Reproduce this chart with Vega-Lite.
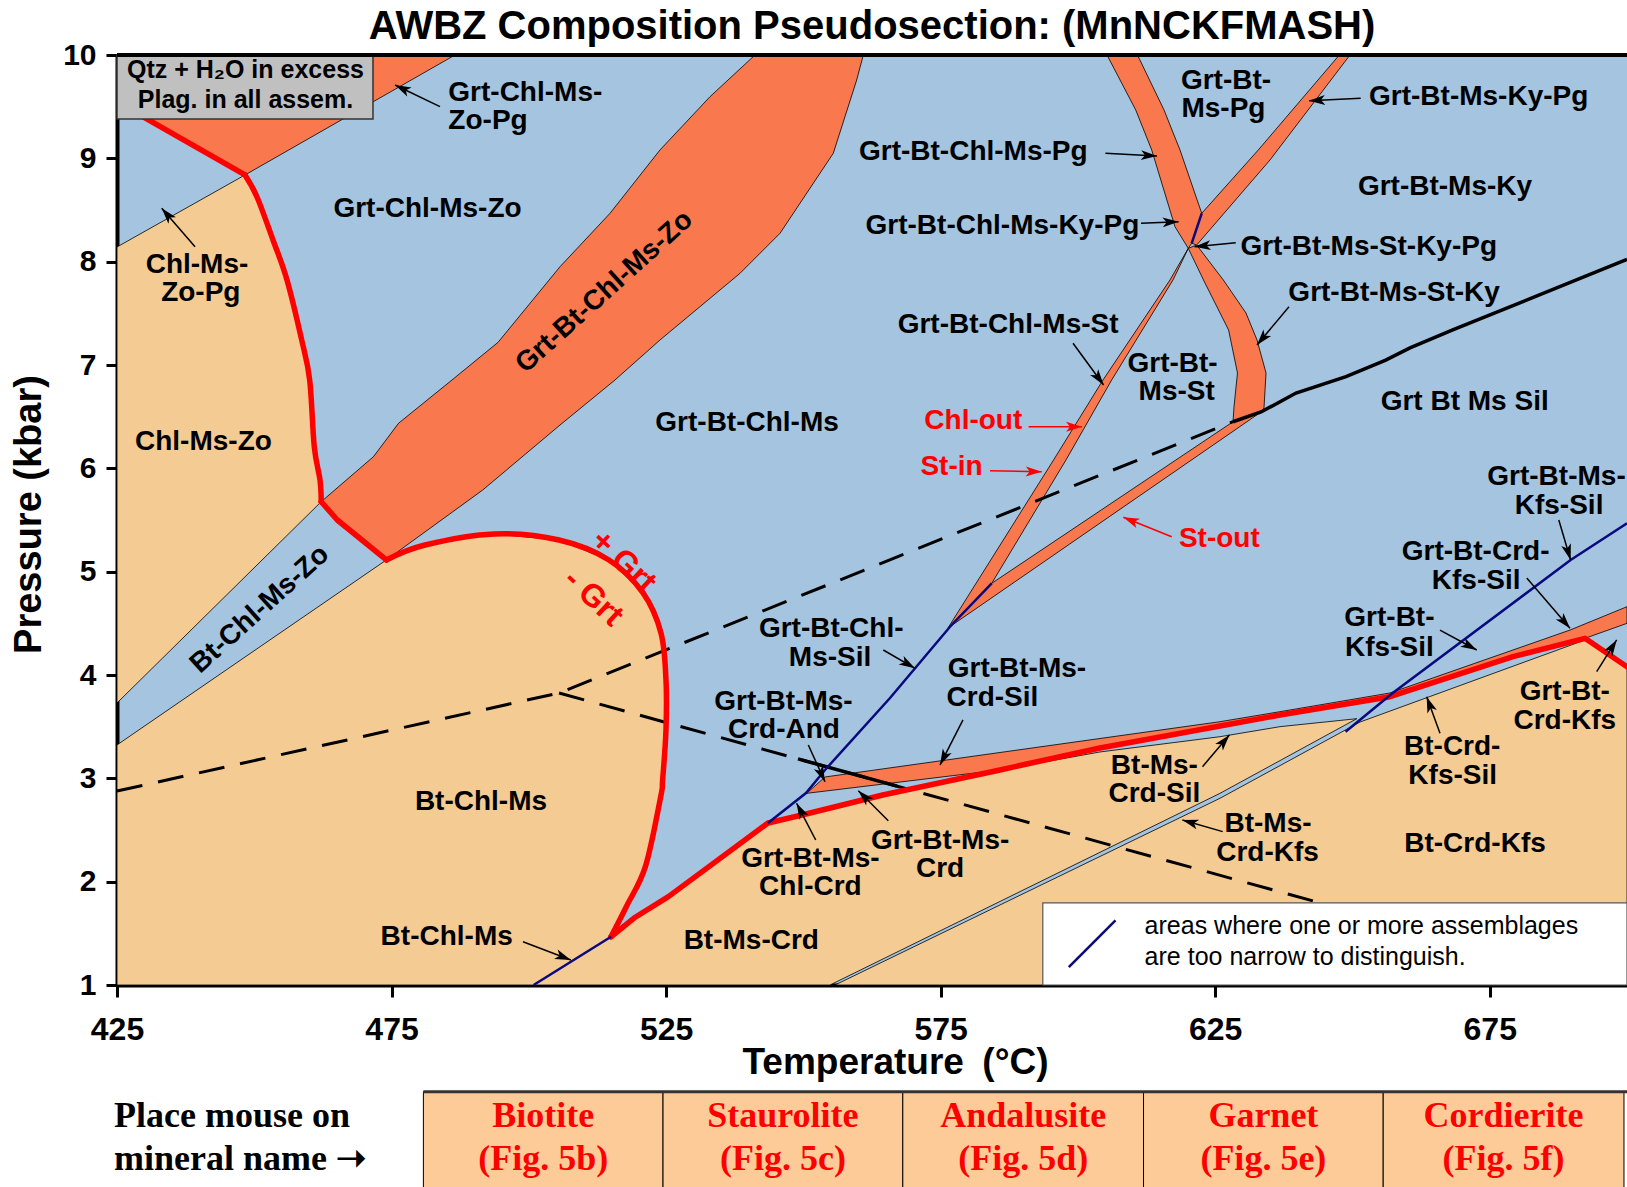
{
"$schema": "https://vega.github.io/schema/vega-lite/v6.json",
"width": 1510, "height": 930,
"autosize": {"type": "none"},
"padding": {"left": 117, "top": 55, "right": 0, "bottom": 202},
"background": "white",
"title": {"text": "AWBZ Composition Pseudosection: (MnNCKFMASH)", "font": "Liberation Sans", "fontWeight": "bold", "fontSize": 40, "color": "black", "anchor": "middle", "frame": "group", "baseline": "alphabetic", "offset": 2, "dy": 41},
"datasets": {
"regions": [
{"id":"chlmszo","kind":"peach","i":0,"T":425,"P":8.142},
{"id":"chlmszo","kind":"peach","i":1,"T":448.31,"P":8.839},
{"id":"chlmszo","kind":"peach","i":2,"T":450.50,"P":8.626},
{"id":"chlmszo","kind":"peach","i":3,"T":453.41,"P":8.210},
{"id":"chlmszo","kind":"peach","i":4,"T":455.96,"P":7.823},
{"id":"chlmszo","kind":"peach","i":5,"T":458.64,"P":7.242},
{"id":"chlmszo","kind":"peach","i":6,"T":460.09,"P":6.855},
{"id":"chlmszo","kind":"peach","i":7,"T":460.93,"P":6.209},
{"id":"chlmszo","kind":"peach","i":8,"T":461.97,"P":5.887},
{"id":"chlmszo","kind":"peach","i":9,"T":462.19,"P":5.677},
{"id":"chlmszo","kind":"peach","i":10,"T":425,"P":3.729},
{"id":"lower","kind":"peach","i":0,"T":425,"P":3.323},
{"id":"lower","kind":"peach","i":1,"T":474.05,"P":5.113},
{"id":"lower","kind":"peach","i":2,"T":481.09,"P":5.258},
{"id":"lower","kind":"peach","i":3,"T":493.66,"P":5.365},
{"id":"lower","kind":"peach","i":4,"T":505.50,"P":5.306},
{"id":"lower","kind":"peach","i":5,"T":514.60,"P":5.113},
{"id":"lower","kind":"peach","i":6,"T":520.80,"P":4.794},
{"id":"lower","kind":"peach","i":7,"T":524.07,"P":4.406},
{"id":"lower","kind":"peach","i":8,"T":524.98,"P":3.952},
{"id":"lower","kind":"peach","i":9,"T":524.98,"P":3.468},
{"id":"lower","kind":"peach","i":10,"T":524.37,"P":2.984},
{"id":"lower","kind":"peach","i":11,"T":524.02,"P":2.822},
{"id":"lower","kind":"peach","i":12,"T":521.23,"P":2.145},
{"id":"lower","kind":"peach","i":13,"T":517.75,"P":1.758},
{"id":"lower","kind":"peach","i":14,"T":514.97,"P":1.467},
{"id":"lower","kind":"peach","i":15,"T":519.16,"P":1.648},
{"id":"lower","kind":"peach","i":16,"T":525.42,"P":1.855},
{"id":"lower","kind":"peach","i":17,"T":543.56,"P":2.568},
{"id":"lower","kind":"peach","i":18,"T":549.75,"P":2.645},
{"id":"lower","kind":"peach","i":19,"T":564.45,"P":2.839},
{"id":"lower","kind":"peach","i":20,"T":585.81,"P":3.081},
{"id":"lower","kind":"peach","i":21,"T":604.02,"P":3.255},
{"id":"lower","kind":"peach","i":22,"T":625.88,"P":3.403},
{"id":"lower","kind":"peach","i":23,"T":636.81,"P":3.500},
{"id":"lower","kind":"peach","i":24,"T":650.78,"P":3.577},
{"id":"lower","kind":"peach","i":25,"T":625.88,"P":2.855},
{"id":"lower","kind":"peach","i":26,"T":554.85,"P":1.0},
{"id":"lower","kind":"peach","i":27,"T":425,"P":1.0},
{"id":"right","kind":"peach","i":0,"T":555.76,"P":1.0},
{"id":"right","kind":"peach","i":1,"T":625.88,"P":2.807},
{"id":"right","kind":"peach","i":2,"T":651.38,"P":3.545},
{"id":"right","kind":"peach","i":3,"T":692.35,"P":4.339},
{"id":"right","kind":"peach","i":4,"T":700,"P":4.080},
{"id":"right","kind":"peach","i":5,"T":700,"P":1.0},
{"id":"tl","kind":"coral","i":0,"T":425,"P":9.545},
{"id":"tl","kind":"coral","i":1,"T":448.31,"P":8.839},
{"id":"tl","kind":"coral","i":2,"T":486.56,"P":10},
{"id":"tl","kind":"coral","i":3,"T":425,"P":10},
{"id":"zo","kind":"coral","i":0,"T":462.19,"P":5.677},
{"id":"zo","kind":"coral","i":1,"T":471.73,"P":6.114},
{"id":"zo","kind":"coral","i":2,"T":476.27,"P":6.436},
{"id":"zo","kind":"coral","i":3,"T":486.01,"P":6.855},
{"id":"zo","kind":"coral","i":4,"T":494.39,"P":7.219},
{"id":"zo","kind":"coral","i":5,"T":505.68,"P":7.951},
{"id":"zo","kind":"coral","i":6,"T":514.79,"P":8.468},
{"id":"zo","kind":"coral","i":7,"T":523.89,"P":9.081},
{"id":"zo","kind":"coral","i":8,"T":532.99,"P":9.596},
{"id":"zo","kind":"coral","i":9,"T":541.19,"P":10},
{"id":"zo","kind":"coral","i":10,"T":560.92,"P":10},
{"id":"zo","kind":"coral","i":11,"T":559.71,"P":9.758},
{"id":"zo","kind":"coral","i":12,"T":555.45,"P":9.049},
{"id":"zo","kind":"coral","i":13,"T":545.75,"P":8.275},
{"id":"zo","kind":"coral","i":14,"T":538.46,"P":7.887},
{"id":"zo","kind":"coral","i":15,"T":523.89,"P":7.242},
{"id":"zo","kind":"coral","i":16,"T":515.70,"P":6.855},
{"id":"zo","kind":"coral","i":17,"T":505.68,"P":6.419},
{"id":"zo","kind":"coral","i":18,"T":491.60,"P":5.790},
{"id":"zo","kind":"coral","i":19,"T":474.05,"P":5.113},
{"id":"zo","kind":"coral","i":20,"T":465.12,"P":5.500},
{"id":"lowband","kind":"coral","i":0,"T":550.61,"P":2.855},
{"id":"lowband","kind":"coral","i":1,"T":553.94,"P":3.013},
{"id":"lowband","kind":"coral","i":2,"T":625.88,"P":3.548},
{"id":"lowband","kind":"coral","i":3,"T":636.81,"P":3.645},
{"id":"lowband","kind":"coral","i":4,"T":656.84,"P":3.826},
{"id":"lowband","kind":"coral","i":5,"T":689.62,"P":4.435},
{"id":"lowband","kind":"coral","i":6,"T":700,"P":4.661},
{"id":"lowband","kind":"coral","i":7,"T":700,"P":4.500},
{"id":"lowband","kind":"coral","i":8,"T":692.35,"P":4.355},
{"id":"lowband","kind":"coral","i":9,"T":679.24,"P":4.177},
{"id":"lowband","kind":"coral","i":10,"T":656.84,"P":3.790},
{"id":"lowband","kind":"coral","i":11,"T":636.81,"P":3.613},
{"id":"lowband","kind":"coral","i":12,"T":625.88,"P":3.506},
{"id":"lowband","kind":"coral","i":13,"T":604.02,"P":3.294},
{"id":"lowband","kind":"coral","i":14,"T":585.81,"P":3.081},
{"id":"chlout","kind":"coral","i":0,"T":576.34,"P":4.455},
{"id":"chlout","kind":"coral","i":1,"T":595.57,"P":6.081},
{"id":"chlout","kind":"coral","i":2,"T":604.57,"P":6.855},
{"id":"chlout","kind":"coral","i":3,"T":616.77,"P":7.823},
{"id":"chlout","kind":"coral","i":4,"T":620.10,"P":8.129},
{"id":"chlout","kind":"coral","i":5,"T":617.32,"P":7.823},
{"id":"chlout","kind":"coral","i":6,"T":606.15,"P":6.855},
{"id":"chlout","kind":"coral","i":7,"T":597.83,"P":6.081},
{"id":"chlout","kind":"coral","i":8,"T":584.30,"P":4.887},
{"id":"stout","kind":"coral","i":0,"T":576.34,"P":4.455},
{"id":"stout","kind":"coral","i":1,"T":584.30,"P":4.887},
{"id":"stout","kind":"coral","i":2,"T":628.25,"P":6.451},
{"id":"stout","kind":"coral","i":3,"T":628.43,"P":6.597},
{"id":"stout","kind":"coral","i":4,"T":629.06,"P":6.923},
{"id":"stout","kind":"coral","i":5,"T":627.44,"P":7.339},
{"id":"stout","kind":"coral","i":6,"T":622.96,"P":7.813},
{"id":"stout","kind":"coral","i":7,"T":620.10,"P":8.129},
{"id":"stout","kind":"coral","i":8,"T":621.63,"P":8.161},
{"id":"stout","kind":"coral","i":9,"T":626.48,"P":7.823},
{"id":"stout","kind":"coral","i":10,"T":630.61,"P":7.503},
{"id":"stout","kind":"coral","i":11,"T":632.62,"P":7.242},
{"id":"stout","kind":"coral","i":12,"T":634.26,"P":6.923},
{"id":"stout","kind":"coral","i":13,"T":633.89,"P":6.584},
{"id":"stout","kind":"coral","i":14,"T":633.35,"P":6.545},
{"id":"toppg","kind":"coral","i":0,"T":605.30,"P":10},
{"id":"toppg","kind":"coral","i":1,"T":610.53,"P":9.468},
{"id":"toppg","kind":"coral","i":2,"T":613.44,"P":9.081},
{"id":"toppg","kind":"coral","i":3,"T":617.68,"P":8.338},
{"id":"toppg","kind":"coral","i":4,"T":620.10,"P":8.129},
{"id":"toppg","kind":"coral","i":5,"T":620.72,"P":8.178},
{"id":"toppg","kind":"coral","i":6,"T":622.55,"P":8.468},
{"id":"toppg","kind":"coral","i":7,"T":618.59,"P":9.081},
{"id":"toppg","kind":"coral","i":8,"T":615.68,"P":9.468},
{"id":"toppg","kind":"coral","i":9,"T":610.85,"P":10},
{"id":"kypg","kind":"coral","i":0,"T":622.55,"P":8.468},
{"id":"kypg","kind":"coral","i":1,"T":632.85,"P":9.081},
{"id":"kypg","kind":"coral","i":2,"T":647.61,"P":10},
{"id":"kypg","kind":"coral","i":3,"T":649.55,"P":10},
{"id":"kypg","kind":"coral","i":4,"T":634.98,"P":8.984},
{"id":"kypg","kind":"coral","i":5,"T":621.63,"P":8.161},
{"id":"kypg","kind":"coral","i":6,"T":620.72,"P":8.178}
],
"curves": [
{"id":"r1","kind":"red","i":0,"T":428.5,"P":9.44},
{"id":"r1","kind":"red","i":1,"T":430.41,"P":9.381},
{"id":"r1","kind":"red","i":2,"T":448.31,"P":8.839},
{"id":"r2","kind":"redcurve","i":0,"T":448.31,"P":8.839},
{"id":"r2","kind":"redcurve","i":1,"T":450.50,"P":8.626},
{"id":"r2","kind":"redcurve","i":2,"T":453.41,"P":8.210},
{"id":"r2","kind":"redcurve","i":3,"T":455.96,"P":7.823},
{"id":"r2","kind":"redcurve","i":4,"T":458.64,"P":7.242},
{"id":"r2","kind":"redcurve","i":5,"T":460.09,"P":6.855},
{"id":"r2","kind":"redcurve","i":6,"T":460.93,"P":6.209},
{"id":"r2","kind":"redcurve","i":7,"T":461.97,"P":5.887},
{"id":"r2","kind":"redcurve","i":8,"T":462.19,"P":5.677},
{"id":"r3","kind":"red","i":0,"T":462.19,"P":5.677},
{"id":"r3","kind":"red","i":1,"T":465.12,"P":5.500},
{"id":"r3","kind":"red","i":2,"T":474.05,"P":5.113},
{"id":"r4","kind":"redcurve","i":0,"T":474.05,"P":5.113},
{"id":"r4","kind":"redcurve","i":1,"T":481.09,"P":5.258},
{"id":"r4","kind":"redcurve","i":2,"T":493.66,"P":5.365},
{"id":"r4","kind":"redcurve","i":3,"T":505.50,"P":5.306},
{"id":"r4","kind":"redcurve","i":4,"T":514.60,"P":5.113},
{"id":"r4","kind":"redcurve","i":5,"T":520.80,"P":4.794},
{"id":"r4","kind":"redcurve","i":6,"T":524.07,"P":4.406},
{"id":"r4","kind":"redcurve","i":7,"T":524.98,"P":3.952},
{"id":"r4","kind":"redcurve","i":8,"T":524.98,"P":3.468},
{"id":"r4","kind":"redcurve","i":9,"T":524.37,"P":2.984},
{"id":"r4","kind":"redcurve","i":10,"T":524.02,"P":2.822},
{"id":"r4","kind":"redcurve","i":11,"T":521.23,"P":2.145},
{"id":"r4","kind":"redcurve","i":12,"T":517.75,"P":1.758},
{"id":"r4","kind":"redcurve","i":13,"T":514.97,"P":1.467},
{"id":"r5","kind":"red","i":0,"T":514.97,"P":1.467},
{"id":"r5","kind":"red","i":1,"T":519.16,"P":1.648},
{"id":"r5","kind":"red","i":2,"T":525.42,"P":1.855},
{"id":"r5","kind":"red","i":3,"T":543.56,"P":2.568},
{"id":"r5","kind":"red","i":4,"T":549.75,"P":2.645},
{"id":"r5","kind":"red","i":5,"T":564.45,"P":2.839},
{"id":"r5","kind":"red","i":6,"T":585.81,"P":3.081},
{"id":"r5","kind":"red","i":7,"T":604.02,"P":3.294},
{"id":"r5","kind":"red","i":8,"T":625.88,"P":3.506},
{"id":"r5","kind":"red","i":9,"T":636.81,"P":3.613},
{"id":"r5","kind":"red","i":10,"T":656.84,"P":3.790},
{"id":"r5","kind":"red","i":11,"T":679.24,"P":4.177},
{"id":"r5","kind":"red","i":12,"T":692.35,"P":4.355},
{"id":"r5","kind":"red","i":13,"T":700,"P":4.080},
{"id":"n1","kind":"navy","i":0,"T":500.87,"P":1.0},
{"id":"n1","kind":"navy","i":1,"T":514.97,"P":1.467},
{"id":"n2","kind":"navy","i":0,"T":543.56,"P":2.568},
{"id":"n2","kind":"navy","i":1,"T":550.48,"P":2.858},
{"id":"n2","kind":"navy","i":2,"T":553.94,"P":3.081},
{"id":"n2","kind":"navy","i":3,"T":565.78,"P":3.777},
{"id":"n2","kind":"navy","i":4,"T":576.71,"P":4.467},
{"id":"n2","kind":"navy","i":5,"T":584.30,"P":4.887},
{"id":"n3","kind":"navy","i":0,"T":622.55,"P":8.468},
{"id":"n3","kind":"navy","i":1,"T":620.72,"P":8.178},
{"id":"n4","kind":"navy","i":0,"T":648.74,"P":3.451},
{"id":"n4","kind":"navy","i":1,"T":657.27,"P":3.823},
{"id":"n4","kind":"navy","i":2,"T":689.73,"P":5.113},
{"id":"n4","kind":"navy","i":3,"T":700,"P":5.468},
{"id":"d1","kind":"dash","i":0,"T":425,"P":2.877},
{"id":"d1","kind":"dash","i":1,"T":505.50,"P":3.826},
{"id":"d1","kind":"dash","i":2,"T":628.25,"P":6.451},
{"id":"d2","kind":"dash","i":0,"T":505.50,"P":3.826},
{"id":"d2","kind":"dash","i":1,"T":643.73,"P":1.80},
{"id":"s1","kind":"solid","i":0,"T":628.25,"P":6.451},
{"id":"s1","kind":"solid","i":1,"T":633.35,"P":6.545},
{"id":"s1","kind":"solid","i":2,"T":639.72,"P":6.729},
{"id":"s1","kind":"solid","i":3,"T":648.83,"P":6.887},
{"id":"s1","kind":"solid","i":4,"T":656.06,"P":7.048},
{"id":"s1","kind":"solid","i":5,"T":660.48,"P":7.165},
{"id":"s1","kind":"solid","i":6,"T":668.26,"P":7.339},
{"id":"s1","kind":"solid","i":7,"T":700,"P":8.022},
{"id":"s2","kind":"solid","i":0,"T":549.02,"P":3.188},
{"id":"s2","kind":"solid","i":1,"T":567.05,"P":2.924}
],
"keyline": [
{"id":"key","i":0,"T":598.34,"P":1.174},
{"id":"key","i":1,"T":606.85,"P":1.625}
],
"labels": [
{"text":"Grt-Chl-Ms-Zo","T":481.55,"P":8.514,"type":"field"},
{"text":"Grt-Chl-Ms-","T":499.36,"P":9.628,"type":"field"},
{"text":"Zo-Pg","T":492.57,"P":9.357,"type":"field"},
{"text":"Chl-Ms-","T":439.57,"P":7.972,"type":"field"},
{"text":"Zo-Pg","T":440.26,"P":7.701,"type":"field"},
{"text":"Chl-Ms-Zo","T":440.74,"P":6.255,"type":"field"},
{"text":"Grt-Bt-Chl-Ms","T":539.75,"P":6.435,"type":"field"},
{"text":"Bt-Chl-Ms","T":491.29,"P":2.770,"type":"field"},
{"text":"Bt-Chl-Ms","T":485.04,"P":1.465,"type":"field"},
{"text":"Bt-Ms-Crd","T":540.52,"P":1.424,"type":"field"},
{"text":"Grt-Bt-Ms-","T":551.28,"P":2.217,"type":"field"},
{"text":"Chl-Crd","T":551.28,"P":1.947,"type":"field"},
{"text":"Grt-Bt-Ms-","T":574.90,"P":2.398,"type":"field"},
{"text":"Crd","T":574.90,"P":2.127,"type":"field"},
{"text":"Grt-Bt-Ms-","T":546.37,"P":3.734,"type":"field"},
{"text":"Crd-And","T":546.47,"P":3.463,"type":"field"},
{"text":"Grt-Bt-Chl-","T":555.07,"P":4.447,"type":"field"},
{"text":"Ms-Sil","T":554.87,"P":4.166,"type":"field"},
{"text":"Grt-Bt-Ms-","T":588.89,"P":4.055,"type":"field"},
{"text":"Crd-Sil","T":584.44,"P":3.774,"type":"field"},
{"text":"Grt-Bt-Chl-Ms-St","T":587.29,"P":7.389,"type":"field"},
{"text":"Grt-Bt-","T":617.24,"P":7.008,"type":"field"},
{"text":"Ms-St","T":617.99,"P":6.737,"type":"field"},
{"text":"Grt-Bt-Chl-Ms-Pg","T":580.95,"P":9.066,"type":"field"},
{"text":"Grt-Bt-Chl-Ms-Ky-Pg","T":586.25,"P":8.343,"type":"field"},
{"text":"Grt-Bt-","T":626.97,"P":9.749,"type":"field"},
{"text":"Ms-Pg","T":626.50,"P":9.477,"type":"field"},
{"text":"Grt-Bt-Ms-Ky-Pg","T":672.99,"P":9.589,"type":"field"},
{"text":"Grt-Bt-Ms-Ky","T":666.86,"P":8.725,"type":"field"},
{"text":"Grt-Bt-Ms-St-Ky-Pg","T":652.96,"P":8.142,"type":"field"},
{"text":"Grt-Bt-Ms-St-Ky","T":657.59,"P":7.701,"type":"field"},
{"text":"Grt Bt Ms Sil","T":670.44,"P":6.646,"type":"field"},
{"text":"Grt-Bt-Ms-","T":687.16,"P":5.913,"type":"field"},
{"text":"Kfs-Sil","T":687.63,"P":5.632,"type":"field"},
{"text":"Grt-Bt-Crd-","T":672.43,"P":5.190,"type":"field"},
{"text":"Kfs-Sil","T":672.52,"P":4.909,"type":"field"},
{"text":"Grt-Bt-","T":656.73,"P":4.547,"type":"field"},
{"text":"Kfs-Sil","T":656.73,"P":4.266,"type":"field"},
{"text":"Grt-Bt-","T":688.67,"P":3.835,"type":"field"},
{"text":"Crd-Kfs","T":688.67,"P":3.553,"type":"field"},
{"text":"Bt-Crd-","T":668.17,"P":3.302,"type":"field"},
{"text":"Kfs-Sil","T":668.26,"P":3.021,"type":"field"},
{"text":"Bt-Crd-Kfs","T":672.32,"P":2.368,"type":"field"},
{"text":"Bt-Ms-","T":613.93,"P":3.121,"type":"field"},
{"text":"Crd-Sil","T":613.93,"P":2.850,"type":"field"},
{"text":"Bt-Ms-","T":634.62,"P":2.559,"type":"field"},
{"text":"Crd-Kfs","T":634.53,"P":2.277,"type":"field"},
{"text":"Chl-out","T":580.95,"P":6.455,"type":"reaction"},
{"text":"St-in","T":576.98,"P":6.013,"type":"reaction"},
{"text":"St-out","T":625.75,"P":5.320,"type":"reaction"}
],
"bandlabels": [
{"text":"Bt-Chl-Ms-Zo","T":451.01,"P":4.634,"type":"field"},
{"text":"Grt-Bt-Chl-Ms-Zo","T":513.77,"P":7.705,"type":"field"}
],
"grtlabels": [
{"text":"+ Grt","T":517.3,"P":5.10,"type":"reaction"},
{"text":"- Grt","T":511.8,"P":4.75,"type":"reaction"}
],
"arrows": [
{"t1":483.82,"p1":9.500,"t2":475.63,"p2":9.710,"type":"field"},
{"t1":439.21,"p1":8.145,"t2":433.14,"p2":8.516,"type":"field"},
{"t1":605.01,"p1":9.049,"t2":614.40,"p2":9.023,"type":"field"},
{"t1":611.49,"p1":8.371,"t2":618.34,"p2":8.387,"type":"field"},
{"t1":651.50,"p1":9.581,"t2":642.09,"p2":9.558,"type":"field"},
{"t1":628.74,"p1":8.184,"t2":621.25,"p2":8.145,"type":"field"},
{"t1":638.44,"p1":7.564,"t2":632.62,"p2":7.194,"type":"field"},
{"t1":599.11,"p1":7.210,"t2":604.68,"p2":6.806,"type":"field"},
{"t1":591.02,"p1":6.403,"t2":600.75,"p2":6.403,"type":"reaction"},
{"t1":583.99,"p1":5.977,"t2":593.41,"p2":5.967,"type":"reaction"},
{"t1":617.08,"p1":5.338,"t2":608.27,"p2":5.526,"type":"reaction"},
{"t1":564.56,"p1":4.242,"t2":570.33,"p2":4.065,"type":"field"},
{"t1":579.07,"p1":3.565,"t2":574.88,"p2":3.129,"type":"field"},
{"t1":550.90,"p1":3.323,"t2":553.94,"p2":2.967,"type":"field"},
{"t1":552.25,"p1":2.403,"t2":548.77,"p2":2.758,"type":"field"},
{"t1":565.47,"p1":2.590,"t2":560.01,"p2":2.880,"type":"field"},
{"t1":498.94,"p1":1.419,"t2":507.65,"p2":1.242,"type":"field"},
{"t1":622.69,"p1":3.113,"t2":627.59,"p2":3.419,"type":"field"},
{"t1":626.37,"p1":2.484,"t2":619.03,"p2":2.597,"type":"field"},
{"t1":665.94,"p1":3.436,"t2":663.52,"p2":3.790,"type":"field"},
{"t1":694.48,"p1":4.032,"t2":698.12,"p2":4.339,"type":"field"},
{"t1":665.94,"p1":4.435,"t2":672.63,"p2":4.242,"type":"field"},
{"t1":681.74,"p1":4.939,"t2":689.62,"p2":4.452,"type":"field"},
{"t1":687.58,"p1":5.500,"t2":689.73,"p2":5.113,"type":"field"}
],
"boxes": [
{"box":"conditions","t0":425,"t1":471.62,"p0":9.381,"p1":10},
{"box":"key","t0":593.61,"t1":700,"p0":1.0,"p1":1.795}
],
"notes": [
{"text":"Qtz + H₂O in excess","T":448.40,"P":9.775,"box":"conditions"},
{"text":"Plag. in all assem.","T":448.40,"P":9.484,"box":"conditions"},
{"text":"areas where one or more assemblages","T":612.15,"P":1.494,"box":"key"},
{"text":"are too narrow to distinguish.","T":612.15,"P":1.194,"box":"key"}
],
"table": [
{"line1":"Place mouse on","line2":"mineral name ➝","t0":424.45,"t1":480.80,"cell":"prompt"},
{"line1":"Biotite","line2":"(Fig. 5b)","t0":480.80,"t1":524.44,"cell":"link"},
{"line1":"Staurolite","line2":"(Fig. 5c)","t0":524.44,"t1":568.11,"cell":"link"},
{"line1":"Andalusite","line2":"(Fig. 5d)","t0":568.11,"t1":611.95,"cell":"link"},
{"line1":"Garnet","line2":"(Fig. 5e)","t0":611.95,"t1":655.60,"cell":"link"},
{"line1":"Cordierite","line2":"(Fig. 5f)","t0":655.60,"t1":699.45,"cell":"link"}
]
},
"layer": [
{"data": {"name": "regions"}, "transform": [{"filter": "datum.kind === 'peach'"}],
 "mark": {"type": "line", "interpolate": "linear-closed", "fill": "#f4cb93", "stroke": "black", "strokeWidth": 0.8},
 "encoding": {
  "x": {"field": "T", "type": "quantitative", "scale": {"domain": [425, 700], "nice": false, "zero": false}, "axis": {"values": [425, 475, 525, 575, 625, 675], "format": "d", "title": "Temperature\u2002(°C)"}},
  "y": {"field": "P", "type": "quantitative", "scale": {"domain": [1, 10], "nice": false, "zero": false}, "axis": {"values": [1,2,3,4,5,6,7,8,9,10], "format": "d", "title": "Pressure (kbar)"}},
  "detail": {"field": "id"}, "order": {"field": "i", "type": "quantitative"}}},
{"data": {"name": "regions"}, "transform": [{"filter": "datum.kind === 'coral'"}],
 "mark": {"type": "line", "interpolate": "linear-closed", "fill": "#fa784d", "stroke": "black", "strokeWidth": 0.8},
 "encoding": {"x": {"field": "T", "type": "quantitative"}, "y": {"field": "P", "type": "quantitative"}, "detail": {"field": "id"}, "order": {"field": "i", "type": "quantitative"}}},
{"data": {"name": "curves"}, "transform": [{"filter": "datum.kind === 'dash'"}],
 "mark": {"type": "line", "stroke": "black", "strokeWidth": 3, "strokeDash": [26, 16]},
 "encoding": {"x": {"field": "T", "type": "quantitative"}, "y": {"field": "P", "type": "quantitative"}, "detail": {"field": "id"}, "order": {"field": "i", "type": "quantitative"}}},
{"data": {"name": "curves"}, "transform": [{"filter": "datum.kind === 'solid'"}],
 "mark": {"type": "line", "stroke": "black", "strokeWidth": 3.5},
 "encoding": {"x": {"field": "T", "type": "quantitative"}, "y": {"field": "P", "type": "quantitative"}, "detail": {"field": "id"}, "order": {"field": "i", "type": "quantitative"}}},
{"data": {"name": "curves"}, "transform": [{"filter": "datum.kind === 'red'"}],
 "mark": {"type": "line", "stroke": "#ff0000", "strokeWidth": 5.5, "strokeJoin": "round", "strokeCap": "round"},
 "encoding": {"x": {"field": "T", "type": "quantitative"}, "y": {"field": "P", "type": "quantitative"}, "detail": {"field": "id"}, "order": {"field": "i", "type": "quantitative"}}},
{"data": {"name": "curves"}, "transform": [{"filter": "datum.kind === 'redcurve'"}],
 "mark": {"type": "line", "interpolate": "cardinal", "stroke": "#ff0000", "strokeWidth": 5.5, "strokeJoin": "round", "strokeCap": "round"},
 "encoding": {"x": {"field": "T", "type": "quantitative"}, "y": {"field": "P", "type": "quantitative"}, "detail": {"field": "id"}, "order": {"field": "i", "type": "quantitative"}}},
{"data": {"name": "curves"}, "transform": [{"filter": "datum.kind === 'navy'"}],
 "mark": {"type": "line", "stroke": "#0a0a80", "strokeWidth": 2.5},
 "encoding": {"x": {"field": "T", "type": "quantitative"}, "y": {"field": "P", "type": "quantitative"}, "detail": {"field": "id"}, "order": {"field": "i", "type": "quantitative"}}},
{"data": {"name": "boxes"}, "transform": [{"filter": "datum.box === 'conditions'"}],
 "mark": {"type": "rect", "fill": "#c0c0c0", "stroke": "#333333", "strokeWidth": 1.5},
 "encoding": {"x": {"field": "t0", "type": "quantitative"}, "x2": {"field": "t1"}, "y": {"field": "p0", "type": "quantitative"}, "y2": {"field": "p1"}}},
{"data": {"name": "boxes"}, "transform": [{"filter": "datum.box === 'key'"}],
 "mark": {"type": "rect", "fill": "white", "stroke": "#555555", "strokeWidth": 1.2},
 "encoding": {"x": {"field": "t0", "type": "quantitative"}, "x2": {"field": "t1"}, "y": {"field": "p0", "type": "quantitative"}, "y2": {"field": "p1"}}},
{"data": {"name": "keyline"},
 "mark": {"type": "line", "stroke": "#0a0a80", "strokeWidth": 2.5},
 "encoding": {"x": {"field": "T", "type": "quantitative"}, "y": {"field": "P", "type": "quantitative"}, "order": {"field": "i", "type": "quantitative"}}},
{"data": {"name": "notes"}, "transform": [{"filter": "datum.box === 'conditions'"}],
 "mark": {"type": "text", "font": "Liberation Sans", "fontWeight": "bold", "fontSize": 25, "align": "center", "baseline": "alphabetic", "color": "black"},
 "encoding": {"x": {"field": "T", "type": "quantitative"}, "y": {"field": "P", "type": "quantitative"}, "text": {"field": "text"}}},
{"data": {"name": "notes"}, "transform": [{"filter": "datum.box === 'key'"}],
 "mark": {"type": "text", "font": "Liberation Sans", "fontSize": 25, "align": "left", "baseline": "alphabetic", "color": "black"},
 "encoding": {"x": {"field": "T", "type": "quantitative"}, "y": {"field": "P", "type": "quantitative"}, "text": {"field": "text"}}},
{"data": {"name": "arrows"}, "mark": {"type": "rule", "strokeWidth": 1.5},
 "encoding": {"x": {"field": "t1", "type": "quantitative"}, "y": {"field": "p1", "type": "quantitative"}, "x2": {"field": "t2"}, "y2": {"field": "p2"},
  "color": {"field": "type", "type": "nominal", "scale": {"domain": ["field", "reaction"], "range": ["black", "#ff0000"]}, "legend": null}}},
{"data": {"name": "arrows"}, "transform": [{"calculate": "atan2((datum.t2 - datum.t1) * 5.4909, (datum.p2 - datum.p1) * 103.333) * 180 / PI", "as": "ang"}],
 "mark": {"type": "point", "shape": "M0,0L-0.5,1.6L0,1.2L0.5,1.6Z", "filled": true, "size": 400, "opacity": 1, "strokeWidth": 0},
 "encoding": {"x": {"field": "t2", "type": "quantitative"}, "y": {"field": "p2", "type": "quantitative"}, "angle": {"field": "ang", "type": "quantitative", "scale": null},
  "color": {"field": "type", "type": "nominal", "scale": {"domain": ["field", "reaction"], "range": ["black", "#ff0000"]}, "legend": null}}},
{"data": {"name": "labels"},
 "mark": {"type": "text", "font": "Liberation Sans", "fontWeight": "bold", "fontSize": 28, "align": "center", "baseline": "middle"},
 "encoding": {"x": {"field": "T", "type": "quantitative"}, "y": {"field": "P", "type": "quantitative"}, "text": {"field": "text"},
  "color": {"field": "type", "type": "nominal", "scale": {"domain": ["field", "reaction"], "range": ["black", "#ff0000"]}, "legend": null}}},
{"data": {"name": "bandlabels"},
 "mark": {"type": "text", "font": "Liberation Sans", "fontWeight": "bold", "fontSize": 28, "align": "center", "baseline": "middle", "angle": -42, "color": "black"},
 "encoding": {"x": {"field": "T", "type": "quantitative"}, "y": {"field": "P", "type": "quantitative"}, "text": {"field": "text"}}},
{"data": {"name": "grtlabels"},
 "mark": {"type": "text", "font": "Liberation Sans", "fontWeight": "bold", "fontSize": 32, "align": "center", "baseline": "middle", "angle": 43, "color": "#ff0000"},
 "encoding": {"x": {"field": "T", "type": "quantitative"}, "y": {"field": "P", "type": "quantitative"}, "text": {"field": "text"}}},
{"data": {"values": [{"edge": "top"}]},
 "mark": {"type": "rule", "stroke": "black", "strokeWidth": 4},
 "encoding": {"x": {"datum": 425}, "x2": {"datum": 700}, "y": {"datum": 10}}},
{"data": {"name": "table"}, "transform": [{"filter": "datum.cell === 'link'"}],
 "mark": {"type": "rect", "fill": "#fdcb98", "stroke": "black", "strokeWidth": 1},
 "encoding": {"x": {"field": "t0", "type": "quantitative"}, "x2": {"field": "t1"}, "y": {"datum": -0.033}, "y2": {"datum": -1.3}}},
{"data": {"values": [{"edge": "tabletop"}]},
 "mark": {"type": "rule", "stroke": "#333333", "strokeWidth": 3},
 "encoding": {"x": {"datum": 480.8}, "x2": {"datum": 700}, "y": {"datum": -0.033}}},
{"data": {"name": "table"}, "transform": [{"filter": "datum.cell === 'link'"}, {"calculate": "(datum.t0 + datum.t1) / 2", "as": "tc"}],
 "mark": {"type": "text", "font": "Liberation Serif", "fontWeight": "bold", "fontSize": 36, "align": "center", "baseline": "alphabetic", "color": "#ff0000"},
 "encoding": {"x": {"field": "tc", "type": "quantitative"}, "y": {"datum": -0.371}, "text": {"field": "line1"}}},
{"data": {"name": "table"}, "transform": [{"filter": "datum.cell === 'link'"}, {"calculate": "(datum.t0 + datum.t1) / 2", "as": "tc"}],
 "mark": {"type": "text", "font": "Liberation Serif", "fontWeight": "bold", "fontSize": 36, "align": "center", "baseline": "alphabetic", "color": "#ff0000"},
 "encoding": {"x": {"field": "tc", "type": "quantitative"}, "y": {"datum": -0.790}, "text": {"field": "line2"}}},
{"data": {"name": "table"}, "transform": [{"filter": "datum.cell === 'prompt'"}],
 "mark": {"type": "text", "font": "Liberation Serif", "fontWeight": "bold", "fontSize": 36, "align": "left", "baseline": "alphabetic", "color": "black"},
 "encoding": {"x": {"field": "t0", "type": "quantitative"}, "y": {"datum": -0.371}, "text": {"field": "line1"}}},
{"data": {"name": "table"}, "transform": [{"filter": "datum.cell === 'prompt'"}],
 "mark": {"type": "text", "font": "Liberation Serif", "fontWeight": "bold", "fontSize": 36, "align": "left", "baseline": "alphabetic", "color": "black"},
 "encoding": {"x": {"field": "t0", "type": "quantitative"}, "y": {"datum": -0.790}, "text": {"field": "line2"}}}
],
"config": {
 "view": {"fill": "#a4c4df", "stroke": null},
 "axis": {"grid": false, "zindex": 1, "domainColor": "black", "domainWidth": 4, "tickColor": "black", "tickWidth": 3,
  "labelFont": "Liberation Sans", "labelFontWeight": "bold", "labelColor": "black", "labelFlush": false, "labelOverlap": false,
  "titleFont": "Liberation Sans", "titleFontWeight": "bold", "titleColor": "black"},
 "axisX": {"tickSize": 12, "labelPadding": 17, "labelFontSize": 32, "titleFontSize": 37, "titleX": 778, "titleY": 88, "titleBaseline": "alphabetic", "titleAlign": "center"},
 "axisY": {"tickSize": 11, "labelPadding": 10, "labelFontSize": 30, "titleFontSize": 38, "titleX": -77, "titleY": 459, "titleBaseline": "alphabetic", "titleAngle": -90, "titleAlign": "center"}
}
}
